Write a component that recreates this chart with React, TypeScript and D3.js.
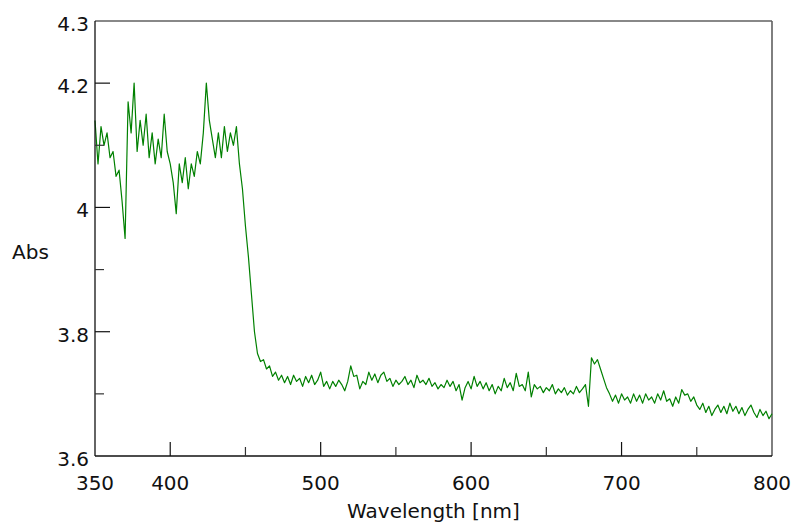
import React from "react";
import * as d3 from "d3";

// Absorbance values sampled every 2 nm from 350 to 800 nm
const startNm = 350;
const stepNm = 2;
const absValues: number[] = [
  // 350-398
  4.14, 4.07, 4.13, 4.10, 4.12, 4.08, 4.09, 4.05, 4.06, 4.01,
  3.95, 4.17, 4.12, 4.20, 4.09, 4.14, 4.10, 4.15, 4.08, 4.12,
  4.07, 4.11, 4.08, 4.15, 4.09,
  // 400-448
  4.07, 4.04, 3.99, 4.07, 4.04, 4.08, 4.03, 4.07, 4.05, 4.09,
  4.07, 4.12, 4.20, 4.14, 4.11, 4.08, 4.12, 4.08, 4.13, 4.09,
  4.12, 4.10, 4.13, 4.07, 4.03,
  // 450-498
  3.97, 3.92, 3.86, 3.80, 3.765, 3.752, 3.755, 3.74, 3.745, 3.728,
  3.735, 3.722, 3.73, 3.718, 3.728, 3.715, 3.73, 3.72, 3.725, 3.712,
  3.728, 3.718, 3.73, 3.715, 3.722,
  // 500-548
  3.735, 3.712, 3.72, 3.708, 3.72, 3.712, 3.722, 3.715, 3.705, 3.72,
  3.745, 3.728, 3.73, 3.708, 3.72, 3.715, 3.735, 3.722, 3.732, 3.718,
  3.73, 3.735, 3.72, 3.725, 3.712,
  // 550-598
  3.722, 3.715, 3.72, 3.728, 3.715, 3.722, 3.71, 3.73, 3.718, 3.722,
  3.715, 3.725, 3.712, 3.718, 3.708, 3.715, 3.71, 3.722, 3.712, 3.72,
  3.705, 3.715, 3.69, 3.71, 3.72,
  // 600-648
  3.708, 3.728, 3.712, 3.72, 3.708, 3.718, 3.705, 3.715, 3.70, 3.712,
  3.705, 3.725, 3.71, 3.718, 3.705, 3.733, 3.712, 3.715, 3.705, 3.735,
  3.695, 3.715, 3.708, 3.712, 3.702,
  // 650-698
  3.71, 3.705, 3.715, 3.70, 3.708, 3.702, 3.71, 3.698, 3.705, 3.70,
  3.712, 3.702, 3.708, 3.715, 3.68, 3.758, 3.748, 3.755, 3.74, 3.725,
  3.71, 3.70, 3.688, 3.698, 3.685,
  // 700-748
  3.70, 3.69, 3.695, 3.685, 3.70, 3.688, 3.698, 3.685, 3.70, 3.69,
  3.695, 3.685, 3.70, 3.69, 3.705, 3.688, 3.692, 3.68, 3.695, 3.685,
  3.707, 3.698, 3.70, 3.688, 3.695,
  // 750-800
  3.682, 3.675, 3.685, 3.67, 3.68, 3.665, 3.675, 3.682, 3.67, 3.68,
  3.668, 3.685, 3.672, 3.68, 3.668, 3.678, 3.665, 3.675, 3.682, 3.67,
  3.662, 3.675, 3.665, 3.672, 3.66, 3.668,
];

const xTickLabels = [350, 400, 500, 600, 700, 800];
const xMajorTicks = [400, 500, 600, 700];
const xMinorTicks = [450, 550, 650, 750];
const yTickLabels = [4.3, 4.2, 4.0, 3.8, 3.6];
const yMajorTicks = [4.2, 4.0, 3.8];
const yMinorTicks = [4.1, 3.9, 3.7];

const W = 793;
const H = 531;
const left = 95;
const right = 772;
const top = 21;
const bottom = 456;
const FONT = "'DejaVu Sans', Verdana, sans-serif";

export default function App() {
  const x = d3.scaleLinear().domain([350, 800]).range([left, right]);
  const y = d3.scaleLinear().domain([3.6, 4.3]).range([bottom, top]);

  const data = absValues.map((v, i) => ({ nm: startNm + i * stepNm, v }));
  const line = d3
    .line<{ nm: number; v: number }>()
    .x((d) => x(d.nm))
    .y((d) => y(d.v));

  const fmtY = (v: number) => (v === 4 ? "4" : d3.format(".1f")(v));

  return (
    <svg
      width={W}
      height={H}
      style={{ position: "absolute", left: 0, top: 0, background: "#fff" }}
    >
      <rect x={0} y={0} width={W} height={H} fill="#fff" />
      {/* frame */}
      <line x1={left} x2={right} y1={top} y2={top} stroke="#606060" strokeWidth={1.6} />
      <line x1={right} x2={right} y1={top} y2={bottom} stroke="#606060" strokeWidth={1.6} />
      {/* data line */}
      <path d={line(data) || ""} fill="none" stroke="#008000" strokeWidth={1.2} strokeLinejoin="round" />
      <line x1={left} x2={right} y1={bottom} y2={bottom} stroke="#111" strokeWidth={1.3} />
      <line x1={left} x2={left} y1={top} y2={bottom} stroke="#111" strokeWidth={1.3} />
      {/* x ticks */}
      {xMajorTicks.map((t) => (
        <line key={"xM" + t} x1={x(t)} x2={x(t)} y1={bottom} y2={bottom - 14} stroke="#111" strokeWidth={1.2} />
      ))}
      {xMinorTicks.map((t) => (
        <line key={"xm" + t} x1={x(t)} x2={x(t)} y1={bottom} y2={bottom - 9} stroke="#333" strokeWidth={1.2} />
      ))}
      {/* y ticks */}
      {yMajorTicks.map((t) => (
        <line key={"yM" + t} x1={left} x2={left + 15} y1={y(t)} y2={y(t)} stroke="#111" strokeWidth={1.2} />
      ))}
      {yMinorTicks.map((t) => (
        <line key={"ym" + t} x1={left} x2={left + 9} y1={y(t)} y2={y(t)} stroke="#333" strokeWidth={1.2} />
      ))}
      {/* tick labels */}
      {xTickLabels.map((t) => (
        <text key={"xl" + t} x={x(t)} y={490} textAnchor="middle" fontFamily={FONT} fontSize={20} fill="#111">
          {t}
        </text>
      ))}
      {yTickLabels.map((t) => (
        <text key={"yl" + t} x={89} y={y(t) + 10} textAnchor="end" fontFamily={FONT} fontSize={20} fill="#111">
          {fmtY(t)}
        </text>
      ))}
      {/* axis titles */}
      <text x={(left + right) / 2} y={518} textAnchor="middle" fontFamily={FONT} fontSize={20} fill="#111">
        Wavelength [nm]
      </text>
      <text x={12} y={259} fontFamily={FONT} fontSize={20} fill="#111">
        Abs
      </text>
    </svg>
  );
}
